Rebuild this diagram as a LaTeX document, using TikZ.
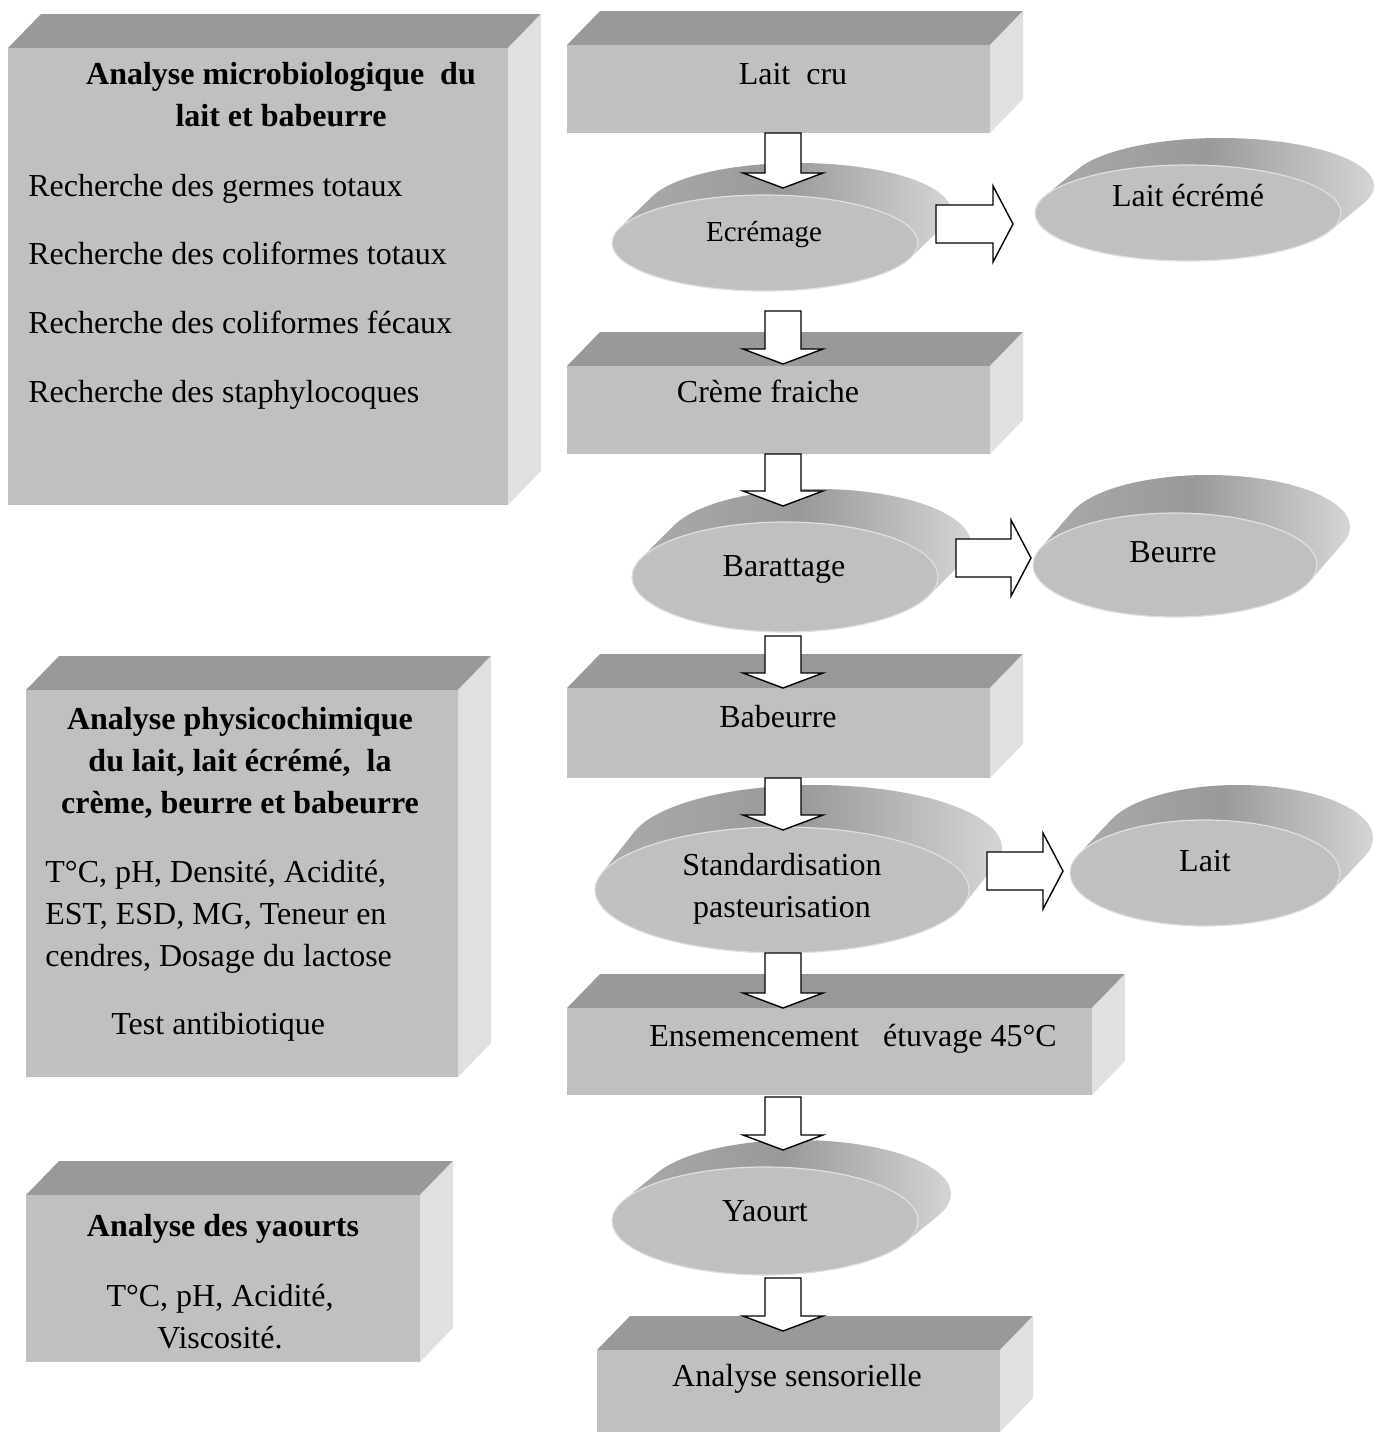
\documentclass[tikz,border=0pt]{standalone}
\usepackage{fontspec}
\setmainfont{Liberation Serif}
\usetikzlibrary{calc,fit,shapes.geometric}

\definecolor{facegray}{HTML}{C0C0C0}
\definecolor{topgray}{HTML}{999999}
\definecolor{sidegray}{HTML}{E0E0E0}

% 3D slab: name, front face corners in px
\newcommand{\slab}[5]{%
  \fill[topgray] (#2,#3) -- (#2+33,#3-34) -- (#4+33,#3-34) -- (#4,#3) -- cycle;
  \fill[sidegray] (#4,#3) -- (#4+33,#3-34) -- (#4+33,#5-34) -- (#4,#5) -- cycle;
  \node[face, fit={(#2,#3) (#4,#5)}] (#1) {};}

% flat disc: name, centre, radii, lift of the back (px)
\newcommand{\disc}[6]{%
  \pgfmathsetlengthmacro\discrx{#4*0.5pt}%
  \pgfmathsetlengthmacro\discry{#5*0.5pt}%
  \pgfmathsetmacro\discang{atan(-(#5*33)/(#4*#6))}%
  \path[discside] (#2,#3) ++({\discrx*cos(\discang)},{\discry*sin(\discang)})
    arc[start angle=\discang, end angle=\discang-180, x radius=\discrx, y radius=\discry]
    -- ++(16.5pt,{#6*0.5pt})
    arc[start angle=\discang+180, end angle=\discang, x radius=\discrx, y radius=\discry] -- cycle;
  \node[discface, minimum width=2*\discrx, minimum height=2*\discry] (#1) at (#2,#3) {};}

% hollow block arrows
\newcommand{\flowdown}[4]{%
  \draw[blockarrow] let \p1=(#1.south), \p2=(#2.north), \p3=(axis) in
    ({\x3-9pt},{\y1-(#3)*0.5pt}) -- ({\x3+9pt},{\y1-(#3)*0.5pt})
    -- ({\x3+9pt},{\y2+(#4)*0.5pt+7.5pt}) -- ({\x3+20pt},{\y2+(#4)*0.5pt+7.5pt})
    -- (\x3,{\y2+(#4)*0.5pt})
    -- ({\x3-20pt},{\y2+(#4)*0.5pt+7.5pt}) -- ({\x3-9pt},{\y2+(#4)*0.5pt+7.5pt}) -- cycle;}
\newcommand{\flowright}[3]{%
  \draw[blockarrow] let \p1=(#1.east), \p2=(#2.west), \p3=(#1.center) in
    ({\x1+9pt},\y3) -- ({\x1+9pt},{\y3+19pt}) -- ({\x2-(#3)*0.5pt-10pt},{\y3+19pt})
    -- ({\x2-(#3)*0.5pt-10pt},{\y3+28.5pt}) -- ({\x2-(#3)*0.5pt},{\y3+9.5pt})
    -- ({\x2-(#3)*0.5pt-10pt},{\y3-9.5pt}) -- ({\x2-(#3)*0.5pt-10pt},\y3) -- cycle;}

\begin{document}
\begin{tikzpicture}[
x=0.5pt, y=-0.5pt,
face/.style={fill=facegray, inner sep=0pt, outer sep=0pt},
discface/.style={ellipse, fill=facegray, draw=black!12, line width=0.6pt, inner sep=0pt, outer sep=0pt},
discside/.style={left color=black!32, right color=black!14, middle color=black!40},
blockarrow/.style={draw=black, fill=white, line width=0.7pt, line join=miter},
txt/.style={inner sep=0pt, font=\fontsize{16}{21}\selectfont},
hd/.style={inner sep=0pt, font=\fontsize{16}{21}\selectfont\bfseries, align=center}
]
\useasboundingbox (0,0) rectangle (1387,1432);
\coordinate (axis) at (783,0);

% analyses
\slab{micro}{8}{48}{508}{505}
\slab{physico}{26}{690}{458}{1077}
\slab{yaourts}{26}{1195}{420}{1362}

% process
\slab{laitcru}{567}{45}{990}{133}
\disc{ecremage}{765}{243}{153}{48}{32}
\disc{laitecreme}{1188}{213}{153}{48}{27}
\slab{creme}{567}{366}{990}{454}
\disc{barattage}{785}{577}{153}{55}{33}
\disc{beurre}{1175}{565}{142}{52}{38}
\slab{babeurre}{567}{688}{990}{778}
\disc{standard}{782}{890}{187}{63}{42}
\disc{lait}{1205}{873}{135}{53}{35}
\slab{ensemencement}{567}{1008}{1092}{1095}
\disc{yaourt}{765}{1221}{153}{54}{27}
\slab{sensorielle}{597}{1350}{1000}{1432}

% multi-line nodes sit on the baseline of their last line
\node[hd, anchor=base] (microhd) at (281,126) {Analyse microbiologique\ \ du\\lait et babeurre};
\node[txt, anchor=base west] (germes) at (28,196) {Recherche des germes totaux};
\node[txt, anchor=base west] (colitot) at (28,264) {Recherche des coliformes totaux};
\node[txt, anchor=base west] (colifec) at (28,333) {Recherche des coliformes fécaux};
\node[txt, anchor=base west] (staph) at (28,402) {Recherche des staphylocoques};

\node[hd, anchor=base] (physicohd) at (240,813) {Analyse physicochimique\\du lait, lait écrémé,\ \ la\\crème, beurre et babeurre};
\node[txt, align=left, anchor=base west] (params) at (45,966) {T°C, pH, Densité, Acidité,\\EST, ESD, MG, Teneur en\\cendres, Dosage du lactose};
\node[txt, anchor=base west] (antibio) at (111,1034) {Test antibiotique};

\node[hd, anchor=base] (yaourtshd) at (223,1236) {Analyse des yaourts};
\node[txt, align=center, anchor=base] (yparams) at (220,1348) {T°C, pH, Acidité,\\Viscosité.};

\node[txt, anchor=base] (t-laitcru) at (793,84) {Lait\ \ cru};
\node[txt, anchor=base, font=\fontsize{14.5}{18}\selectfont] (t-ecremage) at (764,241) {Ecrémage};
\node[txt, anchor=base] (t-laitecreme) at (1188,206) {Lait écrémé};
\node[txt, anchor=base] (t-creme) at (768,402) {Crème fraiche};
\node[txt, anchor=base] (t-barattage) at (784,576) {Barattage};
\node[txt, anchor=base] (t-beurre) at (1173,562) {Beurre};
\node[txt, anchor=base] (t-babeurre) at (778,727) {Babeurre};
\node[txt, align=center, anchor=base] (t-standard) at (782,917) {Standardisation\\pasteurisation};
\node[txt, anchor=base] (t-lait) at (1205,871) {Lait};
\node[txt, anchor=base] (t-ensemencement) at (853,1046) {Ensemencement\ \ \ étuvage 45°C};
\node[txt, anchor=base] (t-yaourt) at (765,1221) {Yaourt};
\node[txt, anchor=base] (t-sensorielle) at (797,1386) {Analyse sensorielle};

\flowdown{laitcru}{ecremage}{0}{7}
\flowdown{ecremage}{creme}{20}{2}
\flowdown{creme}{barattage}{0}{16}
\flowdown{barattage}{babeurre}{4}{0}
\flowdown{babeurre}{standard}{0}{-3}
\flowdown{standard}{ensemencement}{0}{0}
\flowdown{ensemencement}{yaourt}{2}{17}
\flowdown{yaourt}{sensorielle}{3}{19}
\flowright{ecremage}{laitecreme}{22}
\flowright{barattage}{beurre}{2}
\flowright{standard}{lait}{7}
\end{tikzpicture}
\end{document}
